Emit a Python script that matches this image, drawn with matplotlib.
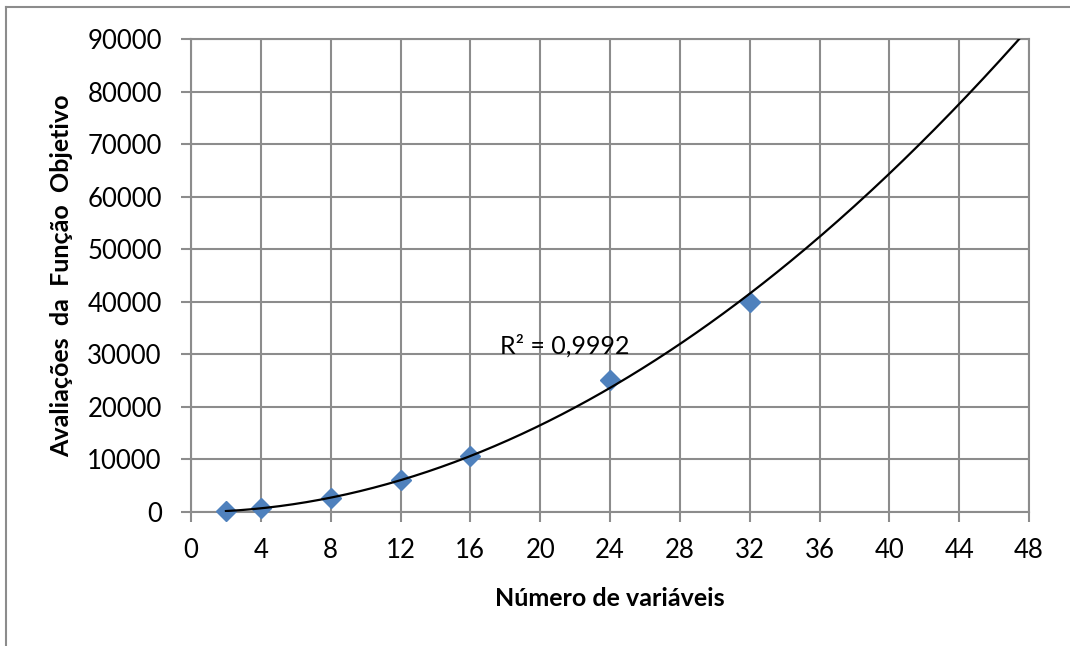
import matplotlib.pyplot as plt
from matplotlib.lines import Line2D
import numpy as np

# data
variaveis = [2, 4, 8, 12, 16, 24, 32]
avaliacoes = [180, 700, 2700, 6000, 10600, 25100, 39900]
x_ticks = list(range(0, 49, 4))
y_ticks = list(range(0, 90001, 10000))

plt.rcParams['font.family'] = ['Lato', 'DejaVu Sans']

fig = plt.figure(figsize=(10.7, 6.46), dpi=100)
ax = fig.add_axes([191 / 1070, 1 - 512 / 646, (1029 - 191) / 1070, (512 - 39) / 646])

# outer chart border (left and top edges only visible)
fig.lines.append(Line2D([6 / 1070, 6 / 1070], [0, 1 - 7 / 646], transform=fig.transFigure,
                        color='#8c8c8c', linewidth=1.5))
fig.lines.append(Line2D([6 / 1070, 1], [1 - 7 / 646, 1 - 7 / 646], transform=fig.transFigure,
                        color='#8c8c8c', linewidth=1.5))

# power trendline, like Excel (fit in log-log space)
b, ln_a = np.polyfit(np.log(variaveis), np.log(avaliacoes), 1)
xs = np.linspace(2, 48, 300)
ax.plot(xs, np.exp(ln_a) * xs ** b, color='black', linewidth=1.6, zorder=4)
ax.plot(variaveis, avaliacoes, linestyle='none', marker='D', markersize=10,
        color='#4F81BD', zorder=3, clip_on=False)

ax.text(17.7, 31700, 'R² = 0,9992', fontsize=18, va='center', ha='left')

ax.set_xlim(0, 48)
ax.set_ylim(0, 90000)
ax.set_xticks(x_ticks)
ax.set_yticks(y_ticks)
ax.grid(True, color='#8c8c8c', linewidth=1.5)
ax.set_axisbelow(True)
for s in ax.spines.values():
    s.set_color('#8c8c8c')
    s.set_linewidth(1.5)
ax.tick_params(axis='both', length=7, width=1.5, color='#8c8c8c', labelsize=18.5)
ax.tick_params(axis='x', pad=12)
ax.tick_params(axis='y', pad=14)

ax.set_xlabel('Número de variáveis', fontsize=18, fontweight='bold', labelpad=17)
ax.set_ylabel('Avaliações  da  Função  Objetivo', fontsize=18, fontweight='bold', labelpad=10)

fig.savefig('out.png', dpi=100)
